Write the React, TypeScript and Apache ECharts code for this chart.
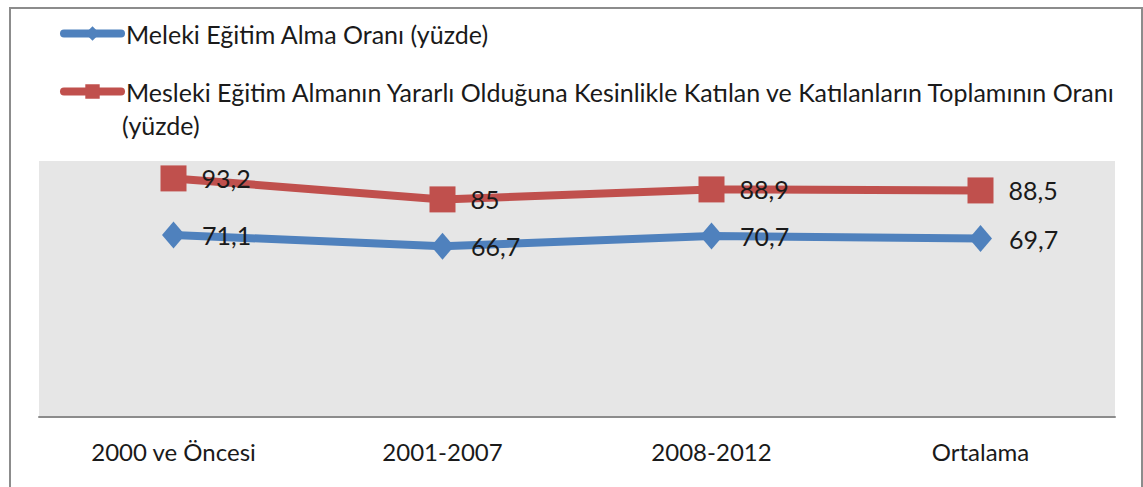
import React, { useEffect, useRef } from "react";
import * as echarts from "echarts";

const categories = ["2000 ve Öncesi", "2001-2007", "2008-2012", "Ortalama"];
const seriesNames = [
  "Meleki Eğitim Alma Oranı (yüzde)",
  "Mesleki Eğitim Almanın Yararlı Olduğuna Kesinlikle Katılan ve Katılanların Toplamının Oranı (yüzde)",
];
const legendFirstLines = [
  "Meleki Eğitim Alma Oranı (yüzde)",
  "Mesleki Eğitim Almanın Yararlı Olduğuna Kesinlikle Katılan ve Katılanların Toplamının Oranı",
];
const legendSecondLine = "(yüzde)";
const egitimAlma = [71.1, 66.7, 70.7, 69.7];
const yararli = [93.2, 85, 88.9, 88.5];

const FONT = "Lato, sans-serif";
const FS_LEGEND = 25;
const FS_AXIS = 24;
const FS_LABEL = 25;
const TXT = "#1a1a1a";
const BLUE = "#4f81bd";
const RED = "#c0504d";
const fmt = (v: number) => String(v).replace(".", ",");

export default function App() {
  const ref = useRef<HTMLDivElement>(null);
  useEffect(() => {
    if (!ref.current) return;
    const chart = echarts.init(ref.current, null, { renderer: "svg" });
    chart.setOption({
      animation: false,
      backgroundColor: "#ffffff",
      textStyle: { fontFamily: FONT },
      grid: {
        left: 39,
        right: 28,
        top: 161,
        bottom: 70,
        show: true,
        backgroundColor: "#e6e6e6",
        borderWidth: 0,
      },
      legend: {
        orient: "vertical",
        left: 60,
        top: 21,
        padding: 0,
        itemWidth: 57,
        itemHeight: 18,
        itemGap: 33,
        textStyle: { fontFamily: FONT, fontSize: FS_LEGEND, color: TXT },
        formatter: (name: string) => legendFirstLines[seriesNames.indexOf(name)],
        data: [
          { name: seriesNames[0], lineStyle: { width: 8, color: BLUE, cap: "round" } },
          { name: seriesNames[1], lineStyle: { width: 8, color: RED, cap: "round" } },
        ],
      },
      graphic: [
        {
          type: "rect",
          shape: { x: 10, y: 8, width: 1132, height: 520 },
          style: { fill: "none", stroke: "#8c8c8c", lineWidth: 2 },
          silent: true,
        },
        {
          type: "text",
          x: 122,
          y: 125,
          style: {
            text: legendSecondLine,
            fontFamily: FONT,
            fontSize: FS_LEGEND,
            fill: TXT,
            verticalAlign: "middle",
          },
        },
      ],
      xAxis: {
        type: "category",
        data: categories,
        boundaryGap: true,
        axisLine: { show: true, lineStyle: { color: "#8c8c8c", width: 2 } },
        axisTick: { show: false },
        axisLabel: { fontFamily: FONT, fontSize: FS_AXIS, color: TXT, margin: 22 },
        splitLine: { show: false },
      },
      yAxis: {
        type: "value",
        min: 0,
        max: 100,
        show: false,
        splitLine: { show: false },
      },
      series: [
        {
          name: seriesNames[0],
          type: "line",
          data: egitimAlma,
          symbol: "diamond",
          symbolSize: [23, 27],
          showAllSymbol: true,
          lineStyle: { color: BLUE, width: 8 },
          itemStyle: { color: BLUE },
          label: {
            show: true,
            position: "right",
            distance: 17,
            fontFamily: FONT,
            fontSize: FS_LABEL,
            color: TXT,
            formatter: (p: any) => fmt(p.value),
          },
        },
        {
          name: seriesNames[1],
          type: "line",
          data: yararli,
          symbol: "rect",
          symbolSize: 26,
          showAllSymbol: true,
          lineStyle: { color: RED, width: 8 },
          itemStyle: { color: RED },
          label: {
            show: true,
            position: "right",
            distance: 15,
            fontFamily: FONT,
            fontSize: FS_LABEL,
            color: TXT,
            formatter: (p: any) => fmt(p.value),
          },
        },
      ],
    });
    return () => chart.dispose();
  }, []);
  return (
    <div
      ref={ref}
      style={{ position: "fixed", left: 0, top: 0, width: 1143, height: 487 }}
    />
  );
}
